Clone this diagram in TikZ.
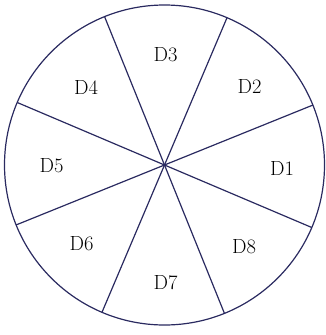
\documentclass[tikz,border=0pt]{standalone}
\definecolor{navy}{RGB}{42,42,96}
\tikzset{
  lbl/.style={font=\fontsize{20.5}{24}\selectfont, inner sep=0pt},
  spoke/.style={draw=navy, line width=1.2pt},
}
\begin{document}
\begin{tikzpicture}[x=1pt,y=-1pt]
\useasboundingbox (0,0) rectangle (325,335);
\node[circle, draw=navy, line width=1.2pt, minimum size=320pt, inner sep=0pt, outer sep=0pt] (c) at (164.5,165) {};
\foreach \a in {22.5,67.5,112.5,157.5}{
  \pgfmathsetmacro\b{\a+180}
  \draw[spoke] (c.\a) -- (c.\b);
}
\node[lbl] (d1) at (282,168) {D1};
\node[lbl] (d2) at (249.5,86) {D2};
\node[lbl] (d3) at (165.5,54.5) {D3};
\node[lbl] (d4) at (86,87.5) {D4};
\node[lbl] (d5) at (51.5,166) {D5};
\node[lbl] (d6) at (81.5,243.5) {D6};
\node[lbl] (d7) at (165.5,282.5) {D7};
\node[lbl] (d8) at (244,246.5) {D8};
\end{tikzpicture}
\end{document}
